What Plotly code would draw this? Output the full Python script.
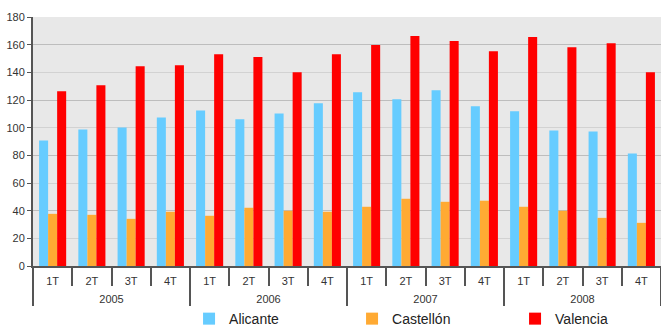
import plotly.graph_objects as go

years = ["2005", "2006", "2007", "2008"]
quarters = ["1T", "2T", "3T", "4T"]

alicante = [90.7, 98.7, 100.2, 107.4, 112.5, 106.0, 110.3, 117.6,
            125.6, 120.5, 127.0, 115.4, 111.8, 98.0, 97.3, 81.3]
castellon = [37.7, 37.0, 34.1, 39.2, 36.3, 42.1, 39.9, 39.2,
             42.8, 48.6, 46.4, 47.2, 42.8, 39.9, 34.8, 31.2]
valencia = [126.3, 130.6, 144.4, 145.2, 153.1, 151.0, 140.0, 153.1,
            159.7, 166.2, 162.6, 155.3, 165.5, 158.2, 161.1, 140.0]

y_ticks = [0, 20, 40, 60, 80, 100, 120, 140, 160, 180]

# one category per quarter; the quarter name is shown as tick text
periods = [f"{y} {q}" for y in years for q in quarters]
period_labels = [q for _ in years for q in quarters]

series = [
    ("Alicante", alicante, "#66ccff"),
    ("Castellón", castellon, "#ffaa33"),
    ("Valencia", valencia, "#ff0000"),
]

fig = go.Figure()
for name, vals, color in series:
    fig.add_trace(go.Bar(x=periods, y=vals, name=name, marker_color=color,
                         marker_line_width=0))

# invisible trace on the overlaid year axis (also carries the stronger grid)
fig.add_trace(go.Scatter(x=years, y=[0] * len(years), xaxis="x2", yaxis="y2",
                         mode="markers", marker_opacity=0, showlegend=False,
                         hoverinfo="skip"))

fig.update_layout(
    width=661, height=326,
    margin=dict(l=33, r=0, t=17, b=60, autoexpand=False),
    paper_bgcolor="white",
    plot_bgcolor="#e8e8e8",
    barmode="group",
    bargap=0.31,
    bargroupgap=0,
    font=dict(family="Liberation Sans, Arial, sans-serif", size=11, color="#333"),
    xaxis=dict(
        type="category",
        tickmode="array", tickvals=periods, ticktext=period_labels,
        showline=True, linecolor="#555", linewidth=2,
        ticks="outside", ticklen=18, tickcolor="#555", tickwidth=2,
        tickson="boundaries", ticklabelstandoff=4,
        showgrid=False,
        tickfont=dict(size=11, color="#333"),
    ),
    xaxis2=dict(
        type="category", overlaying="x", anchor="y", side="bottom",
        range=[-0.5, len(years) - 0.5],
        showline=False, showgrid=False,
        ticks="outside", ticklen=39, tickcolor="#555", tickwidth=2,
        tickson="boundaries", ticklabelstandoff=25,
        tickfont=dict(size=11, color="#333"),
    ),
    yaxis=dict(
        range=[0, 180], tickvals=y_ticks,
        showline=True, linecolor="#555", linewidth=2,
        ticks="outside", ticklen=4, tickcolor="#555",
        gridcolor="#d2d2d2", gridwidth=1,
        zeroline=False,
        tickfont=dict(size=11, color="#333"),
    ),
    yaxis2=dict(
        overlaying="y", anchor="x", range=[0, 180], dtick=40, tick0=0,
        showticklabels=False, gridcolor="#bdbdbd", gridwidth=1,
        zeroline=False, showline=False, ticks="",
    ),
    legend=dict(
        orientation="h", xref="container", x=0.286, xanchor="left",
        yref="paper", y=-0.213, yanchor="middle",
        font=dict(size=14, color="#222"),
        entrywidth=118, itemwidth=30,
        bgcolor="rgba(0,0,0,0)",
    ),
)

fig.write_html("out.html")
